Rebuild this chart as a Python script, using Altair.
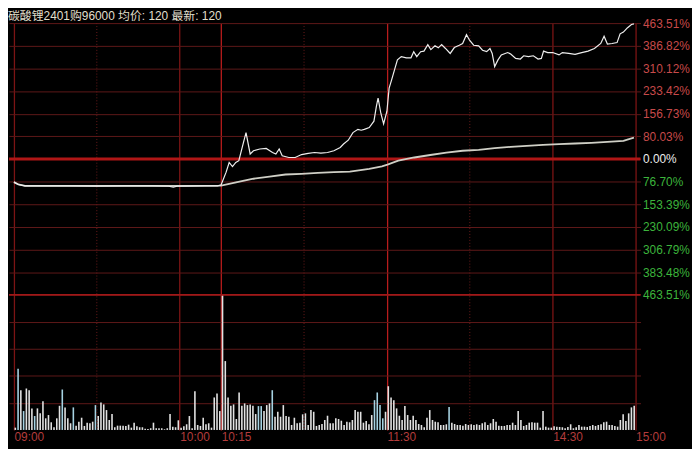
import altair as alt
import pandas as pd

HEADER = "碳酸锂2401购96000 均价: 120 最新: 120"

# time axis: minutes of trading (09:00-10:15, 10:30-11:30, 13:30-15:00)
time_ticks = [0, 60, 75, 135, 195, 225]
time_labels = ["09:00", "10:00", "10:15", "11:30", "14:30", "15:00"]
half_hour_marks = [30, 105, 165]

pct_max = 463.51
pct_labels = ["463.51%", "383.48%", "306.79%", "230.09%", "153.39%", "76.70%",
              "0.00%", "80.03%", "156.73%", "233.42%", "310.12%", "386.82%", "463.51%"]

price_min = [0, 1.6, 4, 10, 20, 30, 40, 50, 56, 57.7, 59, 62, 69, 73.7, 75, 76.8, 77.9, 79.1,
             80.3, 81.4, 82.6, 84, 85.5, 86.7, 89, 91.3, 93.6, 94.8, 96, 97.1, 99.5, 101.8,
             104.1, 106.5, 108.8, 111.1, 113.5, 115.8, 118.1, 119.3, 121, 122.7, 124.5, 125.7,
             126.8, 128.6, 130.3, 131.2, 131.8, 132.8, 133.8, 135, 135.8, 136.7, 137.9, 138.8,
             140.2, 142, 143.7, 144.7, 145.8, 147.2, 148.4, 149.8, 150.9, 152.4, 153.6, 154.8,
             156.2, 157.9, 159.4, 161.2, 162.4, 163.8, 164.9, 166.4, 168.2, 169.6, 171.1, 172.3,
             173.1, 174, 175.2, 176.4, 178.7, 179.8, 181.6, 183.3, 184.5, 186.2, 188, 189.7,
             190.9, 191.7, 193.2, 195, 197.3, 198.5, 200.8, 203.1, 205.5, 207.8, 210.1, 212.4,
             213.6, 214.8, 216.5, 218.3, 219.4, 220.6, 222, 223.5, 224.4]
price_pct = [-79, -87, -92, -92, -92, -92.5, -92, -92, -93, -96, -93, -92.5, -92, -92, -88, -45,
             -12, -26, -12, -6, 39, 90, 17, 28, 34, 36, 22, 17, 34, 11, 5, 5, 15, 19, 22, 20, 22,
             28, 39, 51, 64, 90, 101, 98, 101, 107, 129, 180, 208, 156, 120, 163, 242, 270, 309,
             338, 349, 345, 345, 366, 349, 366, 368, 390, 373, 386, 379, 390, 377, 360, 380, 388,
             394, 424, 405, 388, 386, 371, 366, 377, 360, 315, 338, 355, 363, 358, 343, 341, 352,
             349, 352, 341, 343, 368, 363, 363, 355, 363, 360, 357, 363, 368, 377, 394, 419, 392,
             394, 397, 427, 433, 447, 459, 461]

avg_min = [0, 1.6, 4, 20, 40, 60, 75, 80.8, 86.7, 92.5, 98.3, 104.1, 110, 115.8, 121.6, 128.6,
           133.2, 135.2, 139.1, 144.9, 150.7, 156.5, 162.4, 168.2, 174, 179.8, 185.6, 191.5,
           197.3, 203.1, 209, 214.8, 220.6, 224.4]
avg_pct = [-79, -87, -92, -92, -92, -92, -91, -79, -67.5, -60, -53, -50.6, -47.3, -45.2, -43,
           -34, -25, -19, -6, 5, 13.5, 22, 28, 31, 37, 41.5, 45, 48, 50.6, 52.7, 55, 58.4,
           61.8, 73]

# volume per minute, three sessions
vol_s1 = [2.3, 61.7, 40, 19, 41.7, 40, 21.7, 14, 21.7, 16.7, 29, 11.7, 15, 7.7, 2.7, 11.7, 24.3,
          40.7, 22.7, 11.7, 6.7, 22.7, 4.3, 8.3, 12.3, 4, 7.3, 6.7, 8.3, 25, 14, 27.7, 25.7, 20,
          10, 16, 2.7, 4.3, 4.3, 4.3, 4, 5.3, 2.3, 7.3, 3.7, 2.7, 2.7, 1.3, 1, 1.7, 7.3, 1.7, 1.7,
          1.7, 0.7, 1.7, 16, 3.3, 2.7, 9.7, 2.3, 3.7, 5.7, 14, 1.7, 39, 5, 4, 12.3, 5.7, 6.7, 2.3,
          32.7, 36.7, 19]
vol_s2 = [136, 69.3, 32.7, 24.3, 25.7, 11, 37.7, 24.3, 26.7, 25, 25.7, 24.3, 16, 24, 24, 19, 25,
          26.7, 40, 13.3, 18.3, 13.3, 25, 14, 13.3, 5, 12.3, 6.7, 7.3, 15.7, 16.7, 5, 20, 18.3, 4,
          5, 6, 10, 14.3, 6.7, 6.7, 11.7, 11, 9.3, 5, 8.3]
vol_s3 = [7.7, 10, 20, 18.3, 18.3, 7.3, 9, 5.7, 15, 30, 37.7, 25, 11.7, 18.3, 44, 32.7, 30, 21.7,
          14.3, 10, 24, 15, 10, 14.3, 10, 6, 5, 2.7, 12.3, 20, 10, 8.3, 7.7, 5, 5, 5.7, 23, 7.3, 6,
          5, 5, 4.3, 6, 5, 5.7, 5, 5.7, 5, 6.7, 7.7, 5, 6.7, 11, 8.3, 4.3, 4, 4, 5, 5, 7.3, 5, 19,
          10, 4, 5, 7.3, 7.7, 7.3, 7.3, 2.3, 19, 3.3, 2.3, 2.3, 3.7, 3.3, 3, 2.7, 1.7, 3, 5.7, 1.7,
          2.7, 5, 3.3, 3.3, 3, 4, 5, 4, 5, 5.7, 7.7, 8.3, 5, 5, 4, 3.3, 10, 15.7, 9, 16.7, 22.7,
          24.3]
vol_down_idx = [1, 3, 7, 17, 21, 29, 88, 89, 93, 130, 131, 132, 133, 157]

# ---- layout / style ----
W, H = 638, 411
PRICE_H = 274.5
FONT = "Liberation Sans, Arial, sans-serif"
HFONT = "Liberation Sans, Noto Sans CJK SC, sans-serif"
GRID = "#5e1818"
step = pct_max / 6
y_lo = pct_max - (H / PRICE_H) * 2 * pct_max
vol = vol_s1 + vol_s2 + vol_s3
vmax = max(vol)
vol_hi = vmax * H / (H - PRICE_H)

df_price = pd.DataFrame({"m": price_min, "p": price_pct})
df_avg = pd.DataFrame({"m": avg_min, "p": avg_pct})
df_vol = pd.DataFrame({
    "m": [k + 0.5 for k in range(len(vol))],
    "v": vol,
    "c": ["#a6d2e2" if k in vol_down_idx else "#e2e2e2" for k in range(len(vol))],
})
df_half = pd.DataFrame({"m": half_hour_marks})
df_head = pd.DataFrame({"t": [HEADER]})
df_one = pd.DataFrame({"a": [0]})

x_scale = alt.Scale(domain=[0, 225], nice=False, zero=False)
x_label_expr = "[" + ",".join(f"'{s}'" for s in time_labels) + "][indexof([" + \
    ",".join(str(v) for v in time_ticks) + "], datum.value)]"
x_axis = alt.Axis(values=time_ticks, labelExpr=x_label_expr, labelAlign="left", labelFlush=False,
                  labelOverlap=False, labelPadding=2, labelColor="#b43c3c", labelFont=FONT,
                  labelFontSize=12, grid=True,
                  gridColor={"condition": {"test": "datum.value == 75 || datum.value == 135",
                                           "value": "#b81c1c"}, "value": "#7c1414"},
                  gridWidth=1.3, domain=False, ticks=False, title=None)

p_scale = alt.Scale(domain=[y_lo, pct_max], nice=False, zero=False)
p_label_expr = "[" + ",".join(f"'{s}'" for s in pct_labels) + "][round(datum.value / " + \
    f"{step}" + ") + 6]"
p_axis = alt.Axis(orient="right", values=[k * step for k in range(-6, 7)], labelExpr=p_label_expr,
                  labelColor={"condition": [{"test": "abs(datum.value) < 1", "value": "#ececec"},
                                            {"test": "datum.value > 0", "value": "#c84a4a"}],
                              "value": "#3cb43c"},
                  labelFont=FONT, labelFontSize=12, labelPadding=2, grid=True, gridColor=GRID,
                  domain=False, ticks=False, title=None)

v_scale = alt.Scale(domain=[0, vol_hi], nice=False, zero=True)
v_axis = alt.Axis(orient="left", values=[vmax * k / 5 for k in range(1, 5)], labels=False,
                  ticks=False, domain=False, grid=True, gridColor=GRID, title=None)

X = alt.X("m:Q", scale=x_scale, axis=x_axis)

bars = alt.Chart(df_vol).mark_bar(orient="vertical", width=1.6).encode(
    x=X, y=alt.Y("v:Q", scale=v_scale, axis=v_axis), color=alt.Color("c:N", scale=None))
vol_layer = alt.layer(bars)

half_rules = alt.Chart(df_half).mark_rule(color="#6a1a1a", strokeDash=[1, 2], strokeWidth=1).encode(x=X)
zero_rule = alt.Chart(df_one).mark_rule(color="#b01616", strokeWidth=3).encode(
    y=alt.datum(0, scale=p_scale, axis=p_axis))
bottom_rule = alt.Chart(df_one).mark_rule(color="#a01818", strokeWidth=1.8).encode(
    y=alt.datum(-pct_max, scale=p_scale, axis=p_axis))
avg_line = alt.Chart(df_avg).mark_line(color="#cfcfc6", strokeWidth=1.8).encode(
    x=X, y=alt.Y("p:Q", scale=p_scale, axis=p_axis))
price_line = alt.Chart(df_price).mark_line(color="#eeeeee", strokeWidth=1.2).encode(
    x=X, y=alt.Y("p:Q", scale=p_scale, axis=p_axis))
head = alt.Chart(df_head).mark_text(align="left", baseline="middle", font=HFONT, fontSize=12,
                                    color="#e0dfcc").encode(
    x=alt.value(-1), y=alt.value(-7), text="t:N")
price_layer = alt.layer(half_rules, zero_rule, bottom_rule, avg_line, price_line, head)

chart = alt.layer(vol_layer, price_layer).resolve_scale(y="independent").properties(
    width=W, height=H,
    autosize=alt.AutoSizeParams(type="none"),
    padding={"left": 1, "top": 13, "right": 52, "bottom": 17},
    background="#000000",
).configure_view(stroke=None)

chart.save("out.html", embed_options={"renderer": "svg", "actions": False})
